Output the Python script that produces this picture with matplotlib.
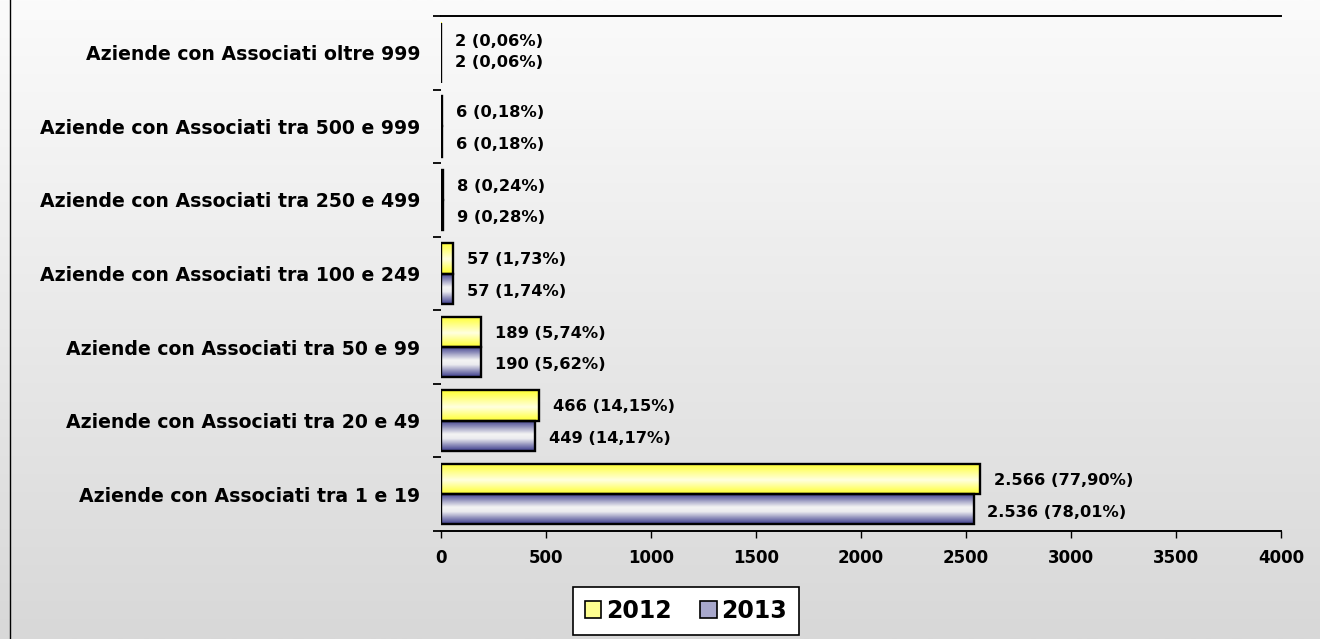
import numpy as np
import matplotlib
matplotlib.use('Agg')
import matplotlib.pyplot as plt
from matplotlib.colors import LinearSegmentedColormap
from matplotlib.patches import Patch
from matplotlib.lines import Line2D

# data (bottom to top, as drawn)
categories = ['Aziende con Associati tra 1 e 19',
              'Aziende con Associati tra 20 e 49',
              'Aziende con Associati tra 50 e 99',
              'Aziende con Associati tra 100 e 249',
              'Aziende con Associati tra 250 e 499',
              'Aziende con Associati tra 500 e 999',
              'Aziende con Associati oltre 999']
values_2012 = [2566, 466, 189, 57, 8, 6, 2]
values_2013 = [2536, 449, 190, 57, 9, 6, 2]
labels_2012 = ['2.566 (77,90%)', '466 (14,15%)', '189 (5,74%)', '57 (1,73%)',
               '8 (0,24%)', '6 (0,18%)', '2 (0,06%)']
labels_2013 = ['2.536 (78,01%)', '449 (14,17%)', '190 (5,62%)', '57 (1,74%)',
               '9 (0,28%)', '6 (0,18%)', '2 (0,06%)']
x_ticks = [0, 500, 1000, 1500, 2000, 2500, 3000, 3500, 4000]

W, H = 1320, 639
fig = plt.figure(figsize=(W / 100, H / 100), dpi=100)

# figure background: vertical grey gradient
bg = fig.add_axes([0, 0, 1, 1], zorder=-10)
bg.imshow(np.linspace(0, 1, 256).reshape(-1, 1), aspect='auto',
          cmap=LinearSegmentedColormap.from_list('bg', ['#fbfbfb', '#d8d8d8']),
          extent=[0, 1, 0, 1])
bg.axis('off')
fig.add_artist(Line2D([10 / W, 10 / W], [0, 1], color='black', lw=1))

ax = fig.add_axes([441 / W, 1 - 531 / H, 840 / W, 515 / H])
ax.set_facecolor('none')

yellow_cmap = LinearSegmentedColormap.from_list(
    'yel', [(0, '#ffff30'), (0.55, '#ffffe0'), (1, '#ffff30')])
blue_cmap = LinearSegmentedColormap.from_list(
    'blu', [(0, '#3c3c8c'), (0.45, '#f4f4f4'), (0.6, '#ececf0'), (1, '#3c3c8c')])

h = 0.41
pos = np.arange(len(categories))
bars12 = ax.barh(pos, values_2012, height=h, align='edge',
                 facecolor='none', edgecolor='black', linewidth=1.7, zorder=3)
bars13 = ax.barh(pos - h, values_2013, height=h, align='edge',
                 facecolor='none', edgecolor='black', linewidth=1.7, zorder=3)

grad = np.linspace(0, 1, 64).reshape(-1, 1)
for bars, cmap in ((bars12, yellow_cmap), (bars13, blue_cmap)):
    for b in bars:
        x0, y0, bw, bh = b.get_x(), b.get_y(), b.get_width(), b.get_height()
        ax.imshow(grad, aspect='auto', cmap=cmap, zorder=2,
                  extent=[x0, x0 + bw, y0, y0 + bh], interpolation='bilinear')

# value labels (the top pair sits closer together, as in the original)
for i in range(len(categories)):
    top = i == len(categories) - 1
    ax.annotate(labels_2012[i], (values_2012[i], pos[i] + h / 2),
                xytext=(10, -3 if top else -1), textcoords='offset points',
                va='center', ha='left', fontsize=11.7, fontweight='bold')
    ax.annotate(labels_2013[i], (values_2013[i], pos[i] - h / 2),
                xytext=(10, 4 if top else -2), textcoords='offset points',
                va='center', ha='left', fontsize=11.7, fontweight='bold')

ax.set_xlim(0, 4000)
ax.set_ylim(-0.5, len(categories) - 0.5)
ax.set_xticks(x_ticks)
ax.set_xticklabels([str(t) for t in x_ticks], fontsize=12, fontweight='bold')
ax.tick_params(axis='x', direction='out', length=5, width=1, pad=8)

ax.set_yticks(pos)
ax.set_yticklabels(categories, fontsize=13.6, fontweight='bold')
ax.set_yticks(np.arange(-0.5, len(categories), 1), minor=True)
ax.tick_params(axis='y', which='major', length=0, pad=15)
ax.tick_params(axis='y', which='minor', direction='out', length=6, width=1.3)

ax.spines['left'].set_visible(False)
ax.spines['right'].set_visible(False)
ax.spines['top'].set_linewidth(1.4)
ax.spines['bottom'].set_linewidth(1.4)

handles = [Patch(facecolor='#ffff90', edgecolor='black', lw=1.2),
           Patch(facecolor='#a8a8cc', edgecolor='black', lw=1.2)]
leg = fig.legend(handles, ['2012', '2013'], loc='center',
                 bbox_to_anchor=(686 / W, 1 - 611 / H), ncol=2,
                 prop={'size': 17, 'weight': 'bold'},
                 frameon=True, fancybox=False, edgecolor='black',
                 framealpha=1, handlelength=0.7, handleheight=0.7,
                 handletextpad=0.2, columnspacing=1.2, borderpad=0.5,
                 borderaxespad=0)
leg.get_frame().set_linewidth(1.2)

fig.savefig('out.png', dpi=100)
